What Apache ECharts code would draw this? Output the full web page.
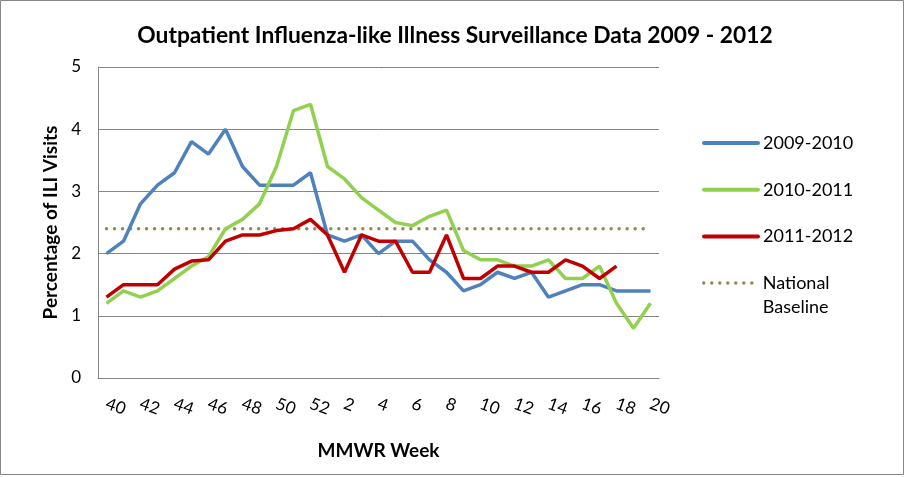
<!DOCTYPE html>
<html>
<head>
<meta charset="utf-8">
<script src="https://cdn.jsdelivr.net/npm/echarts@6/dist/echarts.min.js"></script>
<style>
html,body{margin:0;padding:0;background:#fff;}
#chart{width:906px;height:477px;}
</style>
</head>
<body>
<div id="chart"></div>
<script>
const weeks = [40,41,42,43,44,45,46,47,48,49,50,51,52,1,2,3,4,5,6,7,8,9,10,11,12,13,14,15,16,17,18,19,20];
const s0910 = [2.0,2.2,2.8,3.1,3.3,3.8,3.6,4.0,3.4,3.1,3.1,3.1,3.3,2.3,2.2,2.3,2.0,2.2,2.2,1.9,1.7,1.4,1.5,1.7,1.6,1.7,1.3,1.4,1.5,1.5,1.4,1.4,1.4];
const s1011 = [1.2,1.4,1.3,1.4,1.6,1.8,1.95,2.4,2.55,2.8,3.4,4.3,4.4,3.4,3.2,2.9,2.7,2.5,2.45,2.6,2.7,2.05,1.9,1.9,1.8,1.8,1.9,1.6,1.6,1.8,1.2,0.8,1.2];
const s1112 = [1.3,1.5,1.5,1.5,1.75,1.88,1.9,2.2,2.3,2.3,2.37,2.4,2.55,2.3,1.7,2.3,2.2,2.2,1.7,1.7,2.3,1.6,1.6,1.8,1.8,1.7,1.7,1.9,1.8,1.6,1.8];
const baseline = weeks.map(() => 2.4);
const seriesNames = ['2009-2010','2010-2011','2011-2012','National Baseline'];

const FONT = 'Lato';
const hiddenSymbol = {color: 'rgba(0,0,0,0)', borderColor: 'rgba(0,0,0,0)', borderWidth: 0};
const chart = echarts.init(document.getElementById('chart'), null, {renderer:'canvas'});
chart.setOption({
  animation: false,
  backgroundColor: '#fff',
  textStyle: {fontFamily: FONT},
  title: {
    text: 'Outpatient Influenza-like Illness Surveillance Data 2009 - 2012',
    left: 450, top: 19, textAlign: 'center',
    textStyle: {fontFamily: FONT, fontWeight: 'bold', fontSize: 22.8, color: '#000'}
  },
  graphic: [{
    type: 'rect', silent: true,
    shape: {x: 0.5, y: 0.5, width: 903, height: 474},
    style: {fill: 'none', stroke: '#868686', lineWidth: 1}
  }],
  legend: [{
    orient: 'vertical', left: 697, top: 126,
    data: seriesNames.slice(0,3),
    itemWidth: 54, itemHeight: 14, itemGap: 22.7,
    itemStyle: hiddenSymbol,
    lineStyle: {width: 4, cap: 'round'},
    textStyle: {fontFamily: FONT, fontSize: 18, color: '#000', lineHeight: 24}
  },{
    orient: 'vertical', left: 697, top: 242,
    data: [seriesNames[3]],
    itemWidth: 54, itemHeight: 14,
    itemStyle: hiddenSymbol,
    lineStyle: {width: 3.5, cap: 'round'},
    formatter: () => '\u00a0\nNational\nBaseline',
    textStyle: {fontFamily: FONT, fontSize: 18, color: '#000', lineHeight: 24}
  }],
  grid: {left: 98, right: 247, top: 67, bottom: 99, containLabel: false},
  xAxis: {
    type: 'category', data: weeks, boundaryGap: true,
    name: 'MMWR Week', nameLocation: 'middle', nameGap: 63,
    nameTextStyle: {fontFamily: FONT, fontWeight: 'bold', fontSize: 19, color: '#000'},
    axisLine: {show: true, lineStyle: {color: '#868686', width: 1}},
    axisTick: {show: false},
    axisLabel: {interval: 1, rotate: -20, margin: 25, fontFamily: FONT, fontSize: 17, color: '#000'},
    splitLine: {show: false}
  },
  yAxis: {
    type: 'value', min: 0, max: 5, interval: 1,
    name: 'Percentage of ILI Visits', nameLocation: 'middle', nameGap: 33,
    nameTextStyle: {fontFamily: FONT, fontWeight: 'bold', fontSize: 19, color: '#000'},
    axisLine: {show: true, lineStyle: {color: '#868686', width: 1}},
    axisTick: {show: false},
    axisLabel: {margin: 17, fontFamily: FONT, fontSize: 17, color: '#000'},
    splitLine: {show: true, lineStyle: {color: '#868686', width: 1}}
  },
  series: [
    {name: seriesNames[0], type: 'line', data: s0910, symbol: 'none', z: 3,
     lineStyle: {color: '#4F81BD', width: 3.5}, itemStyle: {color: '#4F81BD'}},
    {name: seriesNames[1], type: 'line', data: s1011, symbol: 'none', z: 4,
     lineStyle: {color: '#92D050', width: 3.5}, itemStyle: {color: '#92D050'}},
    {name: seriesNames[2], type: 'line', data: s1112, symbol: 'none', z: 5,
     lineStyle: {color: '#C00000', width: 3.5}, itemStyle: {color: '#C00000'}},
    {name: seriesNames[3], type: 'line', data: baseline, symbol: 'none', z: 2,
     lineStyle: {color: '#938953', width: 3.5, type: [0.01, 8], cap: 'round'}, itemStyle: {color: '#938953'}}
  ]
});
</script>
</body>
</html>
